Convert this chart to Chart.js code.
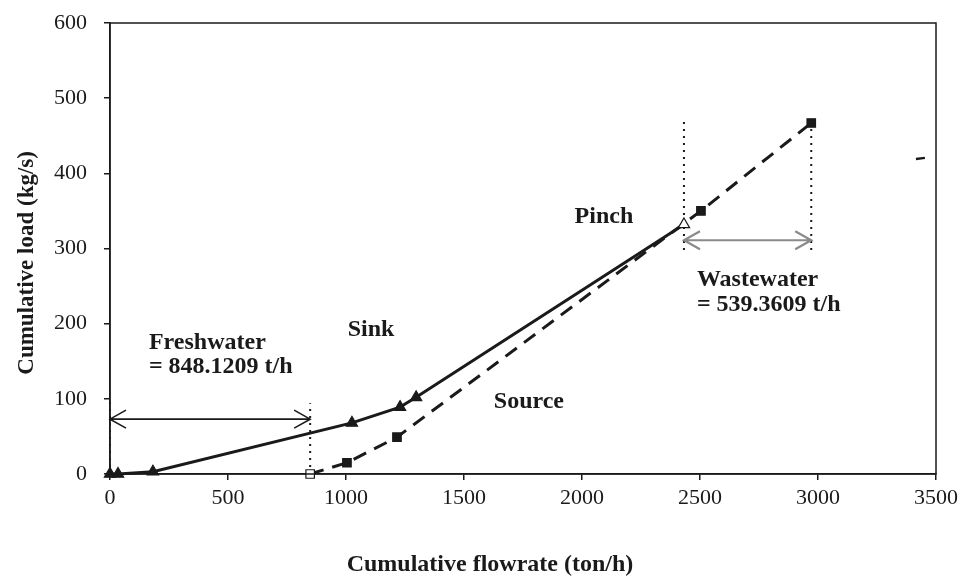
<!DOCTYPE html>
<html><head><meta charset="utf-8">
<script src="https://cdn.jsdelivr.net/npm/chart.js@4/dist/chart.umd.min.js"></script>
<style>html,body{margin:0;padding:0;background:#fff}#wrap{width:965px;height:581px;position:relative}</style>
</head><body><div id="wrap"><canvas id="c"></canvas></div>
<script>
// ---- data ----
const sinkFlow   = [0, 34, 182, 1025, 1229, 1297, 2432];
const sinkLoad   = [0, 0, 3, 68, 89, 102, 332];
const sourceFlow = [848.1209, 1004, 1216, 2504, 2971.4];
const sourceLoad = [0, 15, 49, 350, 467];
const xTickValues = [0, 500, 1000, 1500, 2000, 2500, 3000, 3500];
const yTickValues = [0, 100, 200, 300, 400, 500, 600];
const freshwaterFlow = 848.1209;   // t/h
const wastewaterFlow = 539.3609;   // t/h
const pinchFlow = 2432;
const strayMarkFlow = [3415, 3453];
const strayMarkLoad = [419, 420.5];

// annotation text (data-unit anchors)
const noteTexts = ["Pinch", "Sink", "Source", "Freshwater", "= 848.1209 t/h", "Wastewater", "= 539.3609 t/h"];
const noteFlow  = [2093, 1106, 1775, 165, 165, 2487, 2487];
const noteLoad  = [342, 192, 96, 174, 142, 259, 225];
const noteAlign = ["center", "center", "center", "left", "left", "left", "left"];

const pts = (xs, ys) => xs.map((x, i) => ({x, y: ys[i]}));

const FONT = "'Liberation Serif','Times New Roman',serif";
const INK = '#1a1a1a';

const wasteEnd = pinchFlow + wastewaterFlow;
const guide = (x, y0, y1) => ({
  data: [{x, y: y0}, {x, y: y1}], borderColor: INK, borderWidth: 2,
  borderDash: [2, 5], pointRadius: 0, clip: false, order: 5
});

const arrowPlugin = {
  id: 'arrows',
  afterDatasetsDraw(chart) {
    const {ctx, scales: {x, y}, chartArea: a} = chart;
    ctx.save();
    ctx.strokeStyle = INK; ctx.lineWidth = 1.5;
    ctx.strokeRect(a.left, a.top, a.right - a.left, a.bottom - a.top);
    ctx.restore();
    const arrows = [
      {x0: 0, x1: freshwaterFlow, v: 73, color: INK, w: 1.6},
      {x0: pinchFlow, x1: wasteEnd, v: 311, color: '#8a8a8a', w: 2.2}
    ];
    arrows.forEach(ar => {
      const px0 = x.getPixelForValue(ar.x0), px1 = x.getPixelForValue(ar.x1), py = y.getPixelForValue(ar.v);
      ctx.save();
      ctx.strokeStyle = ar.color; ctx.lineWidth = ar.w;
      ctx.beginPath();
      ctx.moveTo(px0, py); ctx.lineTo(px1, py);
      ctx.moveTo(px0 + 16, py - 9); ctx.lineTo(px0, py); ctx.lineTo(px0 + 16, py + 9);
      ctx.moveTo(px1 - 16, py - 9); ctx.lineTo(px1, py); ctx.lineTo(px1 - 16, py + 9);
      ctx.stroke();
      ctx.restore();
    });
    ctx.save();
    ctx.fillStyle = INK;
    ctx.font = "bold 24px " + FONT;
    ctx.textBaseline = 'middle';
    noteTexts.forEach((t, i) => {
      ctx.textAlign = noteAlign[i];
      ctx.fillText(t, x.getPixelForValue(noteFlow[i]), y.getPixelForValue(noteLoad[i]));
    });
    ctx.restore();
  }
};

new Chart(document.getElementById('c'), {
  type: 'line',
  data: {
    datasets: [
      {label: 'Sink', data: pts(sinkFlow, sinkLoad), borderColor: INK, borderWidth: 3,
       pointStyle: 'triangle', pointRadius: 6.5, pointBorderColor: INK, pointBorderWidth: 1.2,
       pointBackgroundColor: sinkFlow.map((f, i) => i === sinkFlow.length - 1 ? '#fff' : INK),
       clip: false, order: 1},
      {label: 'Source', data: pts(sourceFlow, sourceLoad), borderColor: INK, borderWidth: 3,
       borderDash: [14, 9], pointStyle: 'rect', pointRadius: 6, pointBorderColor: INK, pointBorderWidth: 1.2,
       pointBackgroundColor: sourceFlow.map((f, i) => i === 0 ? '#fff' : INK),
       clip: false, order: 2},
      guide(0, 0, 100),
      guide(freshwaterFlow, 0, 94),
      guide(pinchFlow, 298, 471),
      guide(wasteEnd, 298, 467),
      {label: 'mark', data: pts(strayMarkFlow, strayMarkLoad), borderColor: INK, borderWidth: 2.4,
       pointRadius: 0, order: 6}
    ]
  },
  options: {
    responsive: true, maintainAspectRatio: false, animation: false,
    layout: {padding: {left: 0, right: 29, top: 23, bottom: 0}},
    plugins: {legend: {display: false}, tooltip: {enabled: false}},
    scales: {
      x: {
        type: 'linear', min: 0, max: 3500,
        afterBuildTicks: s => { s.ticks = xTickValues.map(v => ({value: v})); },
        afterFit: s => { s.height = 107; },
        grid: {display: true, drawOnChartArea: false, drawTicks: true, tickLength: 6, color: INK, lineWidth: 1.5},
        border: {display: true, color: INK, width: 1.5},
        ticks: {color: INK, padding: 5, font: {family: FONT, size: 22}, maxRotation: 0, callback: v => String(v)},
        title: {display: true, text: 'Cumulative flowrate (ton/h)           ', color: INK,
                font: {family: FONT, size: 24, weight: 'bold'}, padding: {top: 0, bottom: 2}}
      },
      y: {
        type: 'linear', min: 0, max: 600,
        afterBuildTicks: s => { s.ticks = yTickValues.map(v => ({value: v})); },
        afterFit: s => { s.width = 110; s.paddingTop = 10; s.paddingBottom = 10; },
        grid: {display: true, drawOnChartArea: false, drawTicks: true, tickLength: 6, color: INK, lineWidth: 1.5},
        border: {display: true, color: INK, width: 1.5},
        ticks: {color: INK, padding: 17, font: {family: FONT, size: 22}, callback: v => String(v)},
        title: {display: true, text: 'Cumulative load (kg/s)     ', color: INK,
                font: {family: FONT, size: 23, weight: 'bold'}, padding: {top: 13, bottom: 0}}
      }
    }
  },
  plugins: [arrowPlugin]
});
</script></body></html>
